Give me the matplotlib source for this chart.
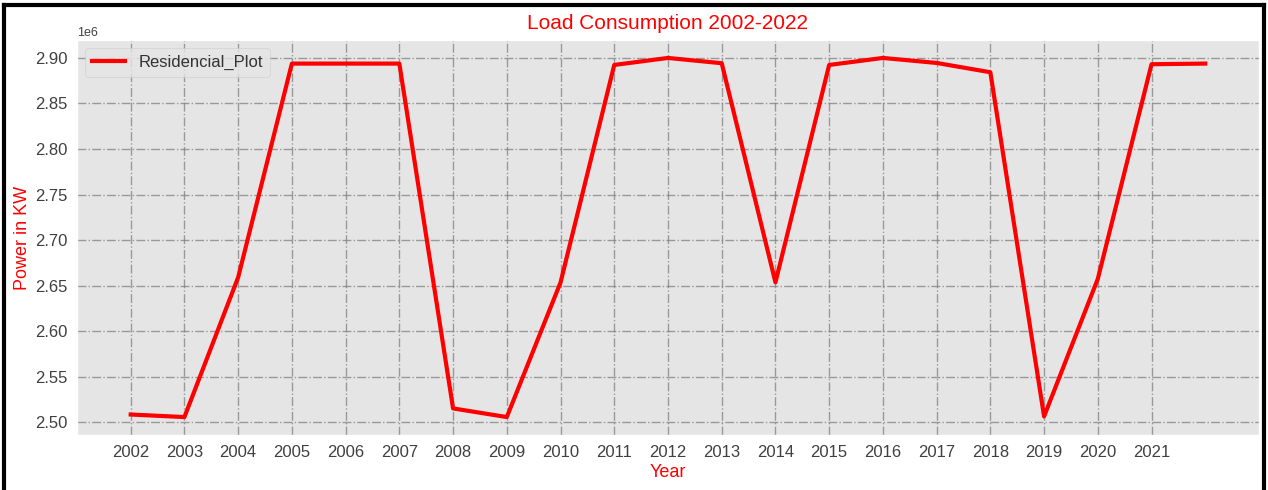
import matplotlib
matplotlib.use("Agg")
import matplotlib.pyplot as plt
from matplotlib.lines import Line2D

# Yearly residential load (KW)
years = list(range(2002, 2023))
residential = [2508600, 2505800, 2659200, 2893800, 2893800, 2893800, 2515300,
               2505800, 2653500, 2892300, 2900000, 2894200, 2653700, 2892300,
               2900000, 2894500, 2884300, 2506500, 2657500, 2893100, 2893800]
tick_years = list(range(2002, 2022))

plt.style.use("ggplot")
plt.rcParams['font.family'] = ['Liberation Sans', 'DejaVu Sans']

fig = plt.figure(figsize=(12.68, 4.9), dpi=100)
ax = fig.add_axes([0.0607, 0.1122, 0.9322, 0.8062])

ax.plot(years, residential, color="red", linewidth=3, label="Residencial_Plot")

ax.set_xticks(tick_years)
ax.tick_params(axis="both", labelsize=12, colors="#404040", length=0, pad=7)
ax.yaxis.get_offset_text().set_fontsize(9)
ax.yaxis.get_offset_text().set_color("#404040")
ax.grid(True, color="gray", linestyle="-.", linewidth=1, alpha=0.75)

ax.set_title("Load Consumption 2002-2022", color="red", fontsize=15, pad=8)
ax.set_xlabel("Year", color="red", fontsize=13, labelpad=3)
ax.set_ylabel("Power in KW", color="red", fontsize=13, labelpad=3)
ax.legend(loc="upper left", fontsize=12, labelcolor="#333333")

# black frame around the figure (bottom edge is cropped in the original)
for xs, ys in [([0.003, 0.997], [0.989, 0.989]),
               ([0.003, 0.003], [0.0, 0.989]),
               ([0.997, 0.997], [0.0, 0.989])]:
    fig.add_artist(Line2D(xs, ys, color="black", linewidth=3, transform=fig.transFigure))

fig.savefig("out.png", dpi=100)
